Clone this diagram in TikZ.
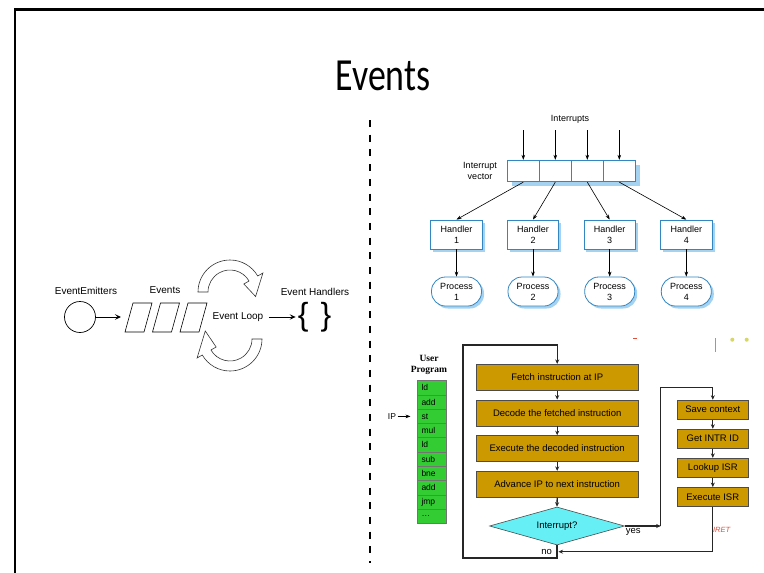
\documentclass[tikz,border=0pt]{standalone}
\usepackage{fontspec}
\setmainfont{Liberation Sans}
\newfontfamily\titlefont{Carlito}
\newfontfamily\tnrfont{Liberation Serif}
\usetikzlibrary{arrows.meta,shapes.geometric,shadows,calc}
\definecolor{bblue}{RGB}{50,135,195}
\definecolor{shblue}{RGB}{165,210,240}
\definecolor{gold}{RGB}{204,153,0}
\definecolor{cyanf}{RGB}{102,240,245}
\definecolor{ugreen}{RGB}{51,204,51}
\definecolor{iretred}{RGB}{220,80,60}
\definecolor{dotyel}{RGB}{215,215,100}
\newcommand\myfs[2]{\fontsize{#1}{#2}\selectfont}
\begin{document}
\begin{tikzpicture}[x=1pt,y=-1pt,
  every node/.style={inner sep=1.5pt},
  arr/.style={-{Stealth[length=5pt,width=3.6pt]}, line width=0.6pt},
  larr/.style={-{Stealth[length=6pt,width=5.5pt,inset=2.5pt]}, line width=0.9pt},
  lbl/.style={font=\myfs{10}{12}},
  vcell/.style={draw=bblue, line width=0.8pt, fill=white, minimum width=32pt, minimum height=21.5pt, inner sep=0pt},
  hbox/.style={draw=bblue, line width=0.8pt, fill=white, minimum width=51.5pt, minimum height=29pt, align=center, font=\myfs{9}{11}, inner sep=0pt, drop shadow={shadow xshift=2.5pt, shadow yshift=-2.5pt, fill=shblue, opacity=1}},
  pbox/.style={hbox, rounded corners=14pt, minimum width=50pt},
  fbox/.style={draw=black!70, line width=0.6pt, fill=gold, minimum width=162pt, minimum height=26pt, font=\myfs{9.5}{11}, inner sep=0pt},
  rbox/.style={fbox, minimum width=71pt, minimum height=19.3pt},
  fline/.style={line width=1.3pt, draw=black!85},
  farr/.style={fline, -{Stealth[length=4.5pt,width=4pt]}},
  ucell/.style={draw=black!55, line width=0.5pt, fill=ugreen, text width=21pt, inner xsep=4.2pt, inner ysep=0pt, minimum height=14.26pt, align=left, font=\myfs{8.5}{9}},
  arcarrow/.style={draw=black!80, fill=white, line width=0.6pt}
]
\useasboundingbox (0,0) rectangle (764,573);
\fill[white] (0,0) rectangle (764,573);
% frame
\draw[line width=2.5pt] (15,573) -- (15,9.25) -- (764,9.25);
% title
\node[font=\titlefont\myfs{46}{50}] (title) at (383,76) {\scalebox{0.78}[1]{Events}};
% separator
\draw[line width=2.2pt, dash pattern=on 7pt off 7.7pt] (370,120) -- (370,563);

% ---------- left: event loop ----------
\node[circle, draw, line width=0.7pt, minimum size=31pt, inner sep=0pt] (em) at (80,317) {};
\node[lbl] (emL) at (86,291) {EventEmitters};
\coordinate (p1w) at (121,317);
\foreach \x in {125,152.5,180}{
  \draw[line width=0.6pt] (\x,332) -- (\x+19,332) -- (\x+27,303) -- (\x+8,303) -- cycle;
}
\node[lbl] (evL) at (165,290) {Events};
\draw[larr] (em.east) -- (p1w);
\node[lbl] (loop) at (238,317) {Event Loop};
\node[inner sep=0pt, font=\myfs{32}{32}] (hnd) at (314.5,317) {\{\hspace{12pt}\}};
\node[lbl] (hndL) at (315,292) {Event Handlers};
\draw[larr] ([xshift=4pt]loop.east) -- ([xshift=-2pt]hnd.west);
\coordinate (c1) at (230,292);
\coordinate (c2) at (230,339);
\draw[arcarrow] ($(c1)+(180:32)$) arc[start angle=180,end angle=330,radius=32]
  -- ($(c1)+(330:38)$) -- ($(c1)+(10:26)$) -- ($(c1)+(330:16)$) -- ($(c1)+(330:22)$)
  arc[start angle=330,end angle=180,radius=22] -- cycle;
\draw[arcarrow] ($(c2)+(0:32)$) arc[start angle=0,end angle=150,radius=32]
  -- ($(c2)+(150:38)$) -- ($(c2)+(198:26)$) -- ($(c2)+(150:16)$) -- ($(c2)+(150:22)$)
  arc[start angle=150,end angle=0,radius=22] -- cycle;

% ---------- right top: interrupt vector ----------
\node[font=\myfs{9}{11}] (intr) at (570,119) {Interrupts};
\node[font=\myfs{9}{11}, align=center] (ivl) at (480,170.5) {Interrupt\\vector};
\fill[shblue] (511.5,164.5) rectangle (639.5,186);
\foreach \i/\x in {1/523.3,2/555.3,3/587.3,4/619.3}{
  \node[vcell] (v\i) at (\x,171) {};
  \coordinate (i\i) at (\x,130);
  \draw[arr] (i\i) -- (v\i.north);
}
\foreach \i/\x in {1/456.5,2/533,3/609.7,4/686.3}{
  \node[hbox] (h\i) at (\x,234.5) {Handler\\\i};
  \node[pbox] (p\i) at (\x,291.5) {Process\\\i};
  \draw[arr] (v\i.south) -- (h\i.north);
  \draw[arr] (h\i.south) -- (p\i.north);
}

% ---------- right bottom: flowchart ----------
\node[font=\tnrfont\bfseries\myfs{9.5}{11.4}, align=center] (up) at (429,365) {User\\Program};
\foreach \i/\t in {1/ld,2/add,3/st,4/mul,5/ld,6/sub,7/bne,8/add,9/jmp,10/\dots}{
  \node[ucell] (u\i) at (432,{380.7+(\i-0.5)*14.26}) {\t};
}
\node[font=\myfs{8.5}{10}] (ip) at (392,416.4) {IP};
\coordinate (ipt) at (410.5,416.4);
\draw[arr] (ip.east) -- (ipt);

\node[fbox] (fetch) at (557.2,377.2) {Fetch instruction at IP};
\node[fbox] (decode) at (557.2,412.9) {Decode the fetched instruction};
\node[fbox] (exe) at (557.2,448.5) {Execute the decoded instruction};
\node[fbox] (adv) at (557.2,484.2) {Advance IP to next instruction};
\node[diamond, aspect=3.5, draw=black!70, line width=0.6pt, fill=cyanf, minimum width=135pt, minimum height=38pt, inner sep=0pt, font=\myfs{9.5}{11}] (dia) at (557,526) {Interrupt?};
\foreach \a/\b in {fetch/decode,decode/exe,exe/adv,adv/dia}{
  \draw[farr] (\a.south) -- (\b.north);
}
\node[rbox] (save) at (712.8,409.7) {Save context};
\node[rbox] (getid) at (712.8,438.7) {Get INTR ID};
\node[rbox] (lookup) at (712.8,467.8) {Lookup ISR};
\node[rbox] (exisr) at (712.8,497) {Execute ISR};
\foreach \a/\b in {save/getid,getid/lookup,lookup/exisr}{
  \draw[farr] (\a.south) -- (\b.north);
}
\coordinate (lbl) at (463,558);
\coordinate (ltl) at (463,345);
\draw[farr] (dia.south) |- (lbl) -- (ltl) -| (fetch.north);
\coordinate (ya) at (660.7,526);
\coordinate (yb) at (660.7,387.3);
\draw[farr] (dia.east) -- (ya);
\draw[farr] (ya) -- (yb) -| (save.north);
\coordinate (ir) at (558.5,551.7);
\draw[farr] (exisr.south) |- (ir);
\node[font=\myfs{9.5}{11}] (yes) at (633.3,531.7) {yes};
\node[font=\myfs{9.5}{11}] (no) at (546.7,551.7) {no};
\node[font=\itshape\myfs{7.5}{9}, text=iretred] (iret) at (721.7,530) {IRET};

% stray marks
\draw[iretred, line width=0.8pt] (633,338.3) -- (637,338.3);
\draw[black!40, line width=0.8pt] (715,338) -- (715,351.7);
\fill[dotyel] (732.3,339.7) circle[radius=2];
\fill[dotyel] (746.7,339.7) circle[radius=2];
\end{tikzpicture}
\end{document}
